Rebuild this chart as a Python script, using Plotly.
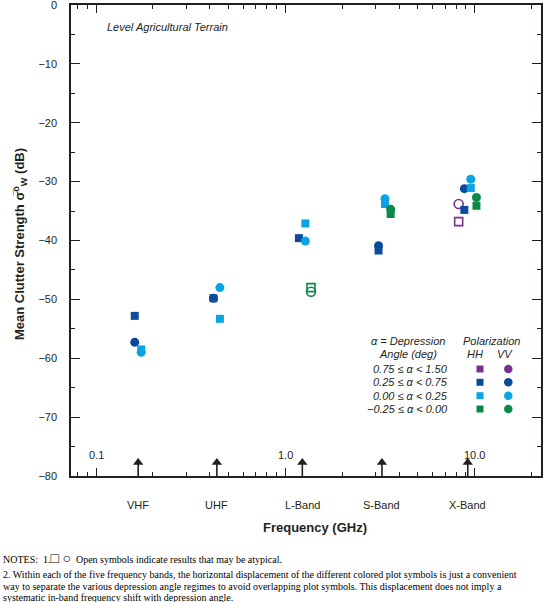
import math
import plotly.graph_objects as go

# ---------------- data ----------------
bands = ["VHF", "UHF", "L-Band", "S-Band", "X-Band"]
band_freq_ghz = [0.167, 0.435, 1.23, 3.24, 9.2]

regimes = ["0.75 ≤ α < 1.50", "0.25 ≤ α < 0.75", "0.00 ≤ α < 0.25", "−0.25 ≤ α < 0.00"]
# in-band horizontal displacement of each regime (decades), purely for separation
regime_displacement = [-0.048, -0.018, 0.016, 0.046]

# mean clutter strength (dB) per band: VHF, UHF, L, S, X
hh_075_150 = [None, None, None, None, -36.8]
vv_075_150 = [None, None, None, None, -33.8]
hh_025_075 = [-52.8, -49.8, -39.6, -41.7, -34.8]
vv_025_075 = [-57.3, -49.8, None, -40.9, -31.2]
hh_000_025 = [-58.5, -53.3, -37.1, -33.8, -31.1]
vv_000_025 = [-59.0, -48.0, -40.1, -32.9, -29.6]
hh_m025_000 = [None, None, -48.0, -35.5, -34.1]
vv_m025_000 = [None, None, -48.7, -34.7, -32.7]

# atypical (open symbol) flags
open_075_150 = [False, False, False, False, True]
open_025_075 = [False] * 5
open_000_025 = [False] * 5
open_m025_000 = [False, False, True, False, False]

y_tick_vals = [0, -10, -20, -30, -40, -50, -60, -70, -80]
x_major_ticks = [0.1, 1.0, 10.0]
x_major_labels = ["0.1", "1.0", "10.0"]
x_minor_ticks = [0.08, 0.09, 0.2, 0.3, 0.4, 0.5, 0.6, 0.7, 0.8, 0.9,
                 2, 3, 4, 5, 6, 7, 8, 9, 20]
arrow_base_db = -80
arrow_tip_db = -77.1

# ---------------- styling ----------------
colors = ["#7b2f8e", "#0c4a9a", "#0aa3e4", "#0b8a47"]
INK = "#231f20"
SANS = "Liberation Sans, Arial, Helvetica, sans-serif"
SERIF = "Liberation Serif, Times New Roman, serif"

W, H = 546, 602
L, R, T, B = 71, 541, 5, 476  # plot area in pixels


def px(x):
    return (x - L) / (R - L)


def py(y):
    return (B - y) / (B - T)


fig = go.Figure()

series = [
    (0, "HH", hh_075_150, open_075_150), (0, "VV", vv_075_150, open_075_150),
    (1, "HH", hh_025_075, open_025_075), (1, "VV", vv_025_075, open_025_075),
    (2, "HH", hh_000_025, open_000_025), (2, "VV", vv_000_025, open_000_025),
    (3, "HH", hh_m025_000, open_m025_000), (3, "VV", vv_m025_000, open_m025_000),
]

for ri, pol, vals, opens in series:
    for is_open in (False, True):
        xs, ys = [], []
        for f, v, o in zip(band_freq_ghz, vals, opens):
            if v is None or o != is_open:
                continue
            xs.append(f * 10 ** regime_displacement[ri])
            ys.append(v)
        if not xs:
            continue
        base = "square" if pol == "HH" else "circle"
        sym = base + ("-open" if is_open else "")
        size = 8 if pol == "HH" else 9
        fig.add_trace(go.Scatter(
            x=xs, y=ys, mode="markers",
            marker=dict(symbol=sym, size=size, color=colors[ri],
                        line=dict(width=1.6 if is_open else 0, color=colors[ri])),
            showlegend=False, hoverinfo="skip"))

# band arrows: shaft + head
sx, sy = [], []
for f in band_freq_ghz:
    sx += [f, f, None]
    sy += [arrow_base_db, arrow_tip_db - 0.6, None]
fig.add_trace(go.Scatter(x=sx, y=sy, mode="lines", line=dict(color=INK, width=1.6),
                         showlegend=False, hoverinfo="skip", cliponaxis=False))
fig.add_trace(go.Scatter(x=band_freq_ghz, y=[arrow_tip_db - 0.6] * len(band_freq_ghz), mode="markers",
                         marker=dict(symbol="triangle-up", size=9, color=INK),
                         showlegend=False, hoverinfo="skip"))

# legend key markers on a pixel-mapped overlay axis
leg_rows_y = [369, 382.3, 395.7, 409]
for i, c in enumerate(colors):
    fig.add_trace(go.Scatter(x=[480], y=[leg_rows_y[i]], mode="markers", xaxis="x2", yaxis="y2",
                             marker=dict(symbol="square", size=7, color=c), showlegend=False, hoverinfo="skip"))
    fig.add_trace(go.Scatter(x=[508.3], y=[leg_rows_y[i]], mode="markers", xaxis="x2", yaxis="y2",
                             marker=dict(symbol="circle", size=8.5, color=c), showlegend=False, hoverinfo="skip"))

ann = []
# band names
for f, name in zip(band_freq_ghz, bands):
    ann.append(dict(x=math.log10(f), y=py(505), xref="x", yref="paper", text=name, showarrow=False,
                    font=dict(family=SANS, size=11, color=INK), xanchor="center", yanchor="middle"))
# inner frequency labels
for v, lab in zip(x_major_ticks, x_major_labels):
    ann.append(dict(x=math.log10(v), y=py(455), xref="x", yref="paper", text=lab, showarrow=False,
                    font=dict(family=SANS, size=11, color=INK), xanchor="center", yanchor="middle"))

ann.append(dict(x=px(315), y=py(527), xref="paper", yref="paper", text="<b>Frequency (GHz)</b>",
                showarrow=False, font=dict(family=SANS, size=13, color=INK), xanchor="center", yanchor="middle"))
ann.append(dict(x=px(20), y=py(244), xref="paper", yref="paper",
                text="<b>Mean Clutter Strength σ̅<sup>o</sup><sub>W</sub> (dB)</b>", textangle=-90,
                showarrow=False, font=dict(family=SANS, size=13, color=INK), xanchor="center", yanchor="middle"))
ann.append(dict(x=px(105), y=py(27), xref="paper", yref="paper", text="<i>Level Agricultural Terrain</i>",
                showarrow=False, font=dict(family=SANS, size=11, color=INK), xanchor="left", yanchor="middle"))


# legend texts
def itx(x, y, t, anchor="center"):
    ann.append(dict(x=px(x), y=py(y), xref="paper", yref="paper", text="<i>" + t + "</i>",
                    showarrow=False, font=dict(family=SANS, size=11, color=INK), xanchor=anchor, yanchor="middle"))


itx(407.5, 340.7, "α = Depression")
itx(408, 354, "Angle (deg)")
itx(491, 340.7, "Polarization")
itx(475, 354, "HH")
itx(504.7, 354, "VV")
for yy, lab in zip(leg_rows_y, regimes):
    itx(450, yy, lab, anchor="right")

# notes
notes = [
    (558, "NOTES:  1.<span style='font-size:14px'>□ ○</span>  Open symbols indicate results that may be atypical."),
    (574, "2. Within each of the five frequency bands, the horizontal displacement of the different colored plot symbols is just a convenient"),
    (586, "way to separate the various depression angle regimes to avoid overlapping plot symbols. This displacement does not imply a"),
    (597, "systematic in-band frequency shift with depression angle."),
]
for yy, t in notes:
    ann.append(dict(x=px(1), y=py(yy), xref="paper", yref="paper", text=t, showarrow=False,
                    font=dict(family=SERIF, size=10, color="#000"), xanchor="left", yanchor="middle"))

x_lo = (L - 285.3) / 189.3
x_hi = (R - 285.3) / 189.3

fig.update_layout(
    width=W, height=H,
    margin=dict(l=L, r=W - R, t=T, b=H - B, pad=0, autoexpand=False),
    paper_bgcolor="white", plot_bgcolor="white",
    showlegend=False,
    xaxis=dict(type="log", range=[x_lo, x_hi], showgrid=False, zeroline=False, automargin=False,
               showline=True, linecolor=INK, linewidth=1.5, mirror="ticks",
               ticks="inside", tickvals=x_major_ticks, ticklen=8, tickwidth=1.3, tickcolor=INK,
               showticklabels=False,
               minor=dict(tickvals=x_minor_ticks, ticks="inside", ticklen=4, tickwidth=1.1, tickcolor=INK)),
    yaxis=dict(range=[-80, 0], showgrid=False, zeroline=False, automargin=False,
               showline=True, linecolor=INK, linewidth=1.5, mirror="ticks",
               ticks="inside", tickvals=y_tick_vals, ticklen=9, tickwidth=1.3, tickcolor=INK,
               tickfont=dict(family=SANS, size=11, color=INK), ticklabelstandoff=10,
               ticklabeloverflow="allow",
               minor=dict(dtick=5, ticks="inside", ticklen=4.5, tickwidth=1.1, tickcolor=INK)),
    xaxis2=dict(overlaying="x", range=[L, R], visible=False, fixedrange=True),
    yaxis2=dict(overlaying="y", range=[B, T], visible=False, fixedrange=True),
    annotations=ann,
)

fig.write_html("out.html", config={"displayModeBar": False},
               post_script="document.body.style.margin='0';document.body.style.overflow='hidden';")
